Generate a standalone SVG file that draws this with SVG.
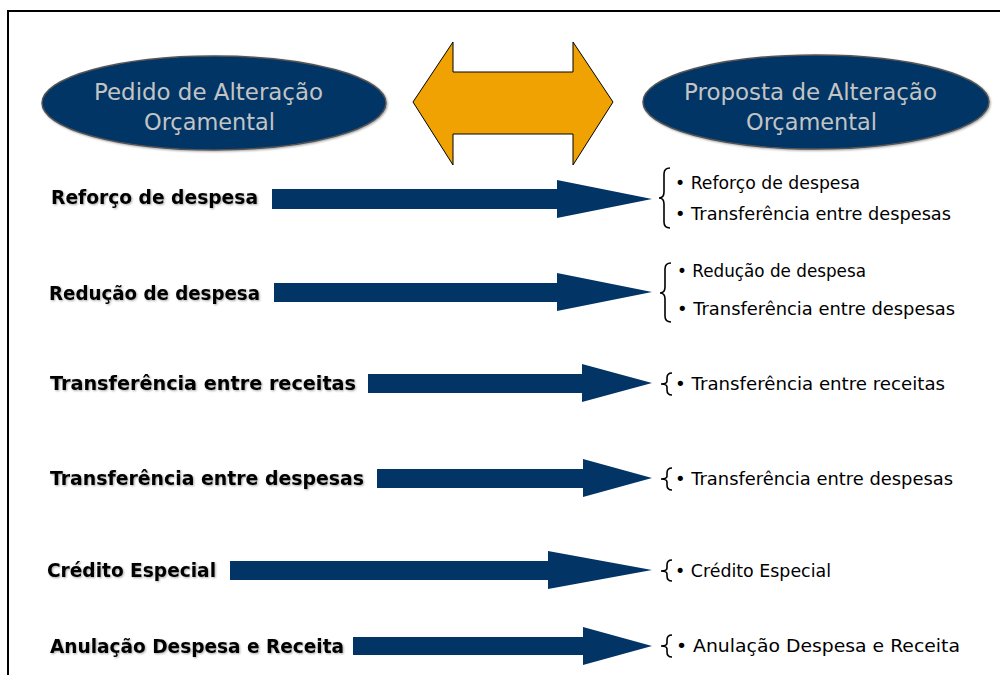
<svg xmlns="http://www.w3.org/2000/svg" width="1000" height="675" viewBox="0 0 1000 675">
<defs>
<style>
.frame{fill:none;stroke:#000;stroke-width:2}
.oval{fill:#033466;stroke:#555;stroke-width:1.5}
.ovaltxt{font-family:"DejaVu Sans",sans-serif;font-size:23px;fill:#C4C4C4;text-anchor:start}
.lbl{font-family:"DejaVu Sans",sans-serif;font-weight:bold;font-size:20px;fill:#000}
.item{font-family:"DejaVu Sans",sans-serif;font-size:18px;fill:#000}
.arrow{fill:#033466}
.brace{fill:none;stroke:#000;stroke-width:1.6}
</style>
<filter id="sh" x="-10%" y="-10%" width="120%" height="130%">
<feGaussianBlur in="SourceAlpha" stdDeviation="1"/>
<feOffset dx="1" dy="1"/>
<feComponentTransfer><feFuncA type="linear" slope="0.35"/></feComponentTransfer>
<feMerge><feMergeNode/><feMergeNode in="SourceGraphic"/></feMerge>
</filter>
</defs>
<rect width="1000" height="675" fill="#fff"/>
<path class="frame" d="M8,675 L8,11 L1000,11"/>

<g id="pedido">
<ellipse class="oval" cx="214" cy="103" rx="172" ry="47" filter="url(#sh)"/>
<text class="ovaltxt" x="94" y="100" textLength="229" lengthAdjust="spacingAndGlyphs">Pedido de Alteração</text>
<text class="ovaltxt" x="144" y="130" textLength="131" lengthAdjust="spacingAndGlyphs">Orçamental</text>
</g>

<g id="proposta">
<ellipse class="oval" cx="816" cy="102" rx="173" ry="47" filter="url(#sh)"/>
<text class="ovaltxt" x="684" y="100" textLength="253" lengthAdjust="spacingAndGlyphs">Proposta de Alteração</text>
<text class="ovaltxt" x="746" y="130" textLength="131" lengthAdjust="spacingAndGlyphs">Orçamental</text>
</g>

<g id="double-arrow">
<polygon points="413,102 453,42 453,72 573,72 573,42 613,102 573,165 573,134 453,134 453,165" fill="#F0A202" stroke="#000" stroke-width="1"/>
</g>

<g id="connectors">
<polygon class="arrow" points="272,189 557,189 557,180 652,199 557,218 557,209 272,209"/>
<polygon class="arrow" points="274,283 557,283 557,273 652,292 557,311 557,302 274,302"/>
<polygon class="arrow" points="368,374 582,374 582,364 652,383 582,402 582,393 368,393"/>
<polygon class="arrow" points="377,469 583,469 583,459 652,478 583,497 583,488 377,488"/>
<polygon class="arrow" points="230,561 548,561 548,551 652,570 548,589 548,580 230,580"/>
<polygon class="arrow" points="353,637 583,637 583,627 652,646 583,665 583,655 353,655"/>
</g>

<g id="row1">
<text class="lbl" x="51" y="204" textLength="207" lengthAdjust="spacingAndGlyphs" filter="url(#sh)">Reforço de despesa</text>
<path class="brace" d="M670,168 Q664,168 664,174 L664,192 Q664,198 659,198 Q664,198 664,204 L664,222 Q664,228 670,228"/>
<text class="item" x="675" y="189" textLength="185" lengthAdjust="spacingAndGlyphs">• Reforço de despesa</text>
<text class="item" x="675" y="220" textLength="276" lengthAdjust="spacingAndGlyphs">• Transferência entre despesas</text>
</g>

<g id="row2">
<text class="lbl" x="49" y="300" textLength="211" lengthAdjust="spacingAndGlyphs" filter="url(#sh)">Redução de despesa</text>
<path class="brace" d="M671,263 Q665,263 665,269 L665,287 Q665,293 660,293 Q665,293 665,299 L665,316 Q665,322 671,322"/>
<text class="item" x="677" y="277" textLength="189" lengthAdjust="spacingAndGlyphs">• Redução de despesa</text>
<text class="item" x="677" y="315" textLength="278" lengthAdjust="spacingAndGlyphs">• Transferência entre despesas</text>
</g>

<g id="row3">
<text class="lbl" x="50" y="390" textLength="306" lengthAdjust="spacingAndGlyphs" filter="url(#sh)">Transferência entre receitas</text>
<path class="brace" d="M672,373 Q667,373 667,378 L667,381 Q667,384 661,384 Q667,384 667,387 L667,390 Q667,395 672,395"/>
<text class="item" x="675" y="390" textLength="270" lengthAdjust="spacingAndGlyphs">• Transferência entre receitas</text>
</g>

<g id="row4">
<text class="lbl" x="50" y="485" textLength="314" lengthAdjust="spacingAndGlyphs" filter="url(#sh)">Transferência entre despesas</text>
<path class="brace" d="M672,468 Q667,468 667,473 L667,476 Q667,479 661,479 Q667,479 667,482 L667,485 Q667,490 672,490"/>
<text class="item" x="675" y="485" textLength="278" lengthAdjust="spacingAndGlyphs">• Transferência entre despesas</text>
</g>

<g id="row5">
<text class="lbl" x="47" y="577" textLength="169" lengthAdjust="spacingAndGlyphs" filter="url(#sh)">Crédito Especial</text>
<path class="brace" d="M672,560 Q667,560 667,565 L667,568 Q667,571 661,571 Q667,571 667,574 L667,576 Q667,581 672,581"/>
<text class="item" x="675" y="577" textLength="156" lengthAdjust="spacingAndGlyphs">• Crédito Especial</text>
</g>

<g id="row6">
<text class="lbl" x="50" y="653" textLength="294" lengthAdjust="spacingAndGlyphs" filter="url(#sh)">Anulação Despesa e Receita</text>
<path class="brace" d="M672,635 Q667,635 667,640 L667,643 Q667,646 661,646 Q667,646 667,649 L667,652 Q667,657 672,657"/>
<text class="item" x="676" y="652" textLength="284" lengthAdjust="spacingAndGlyphs">• Anulação Despesa e Receita</text>
</g>
</svg>
